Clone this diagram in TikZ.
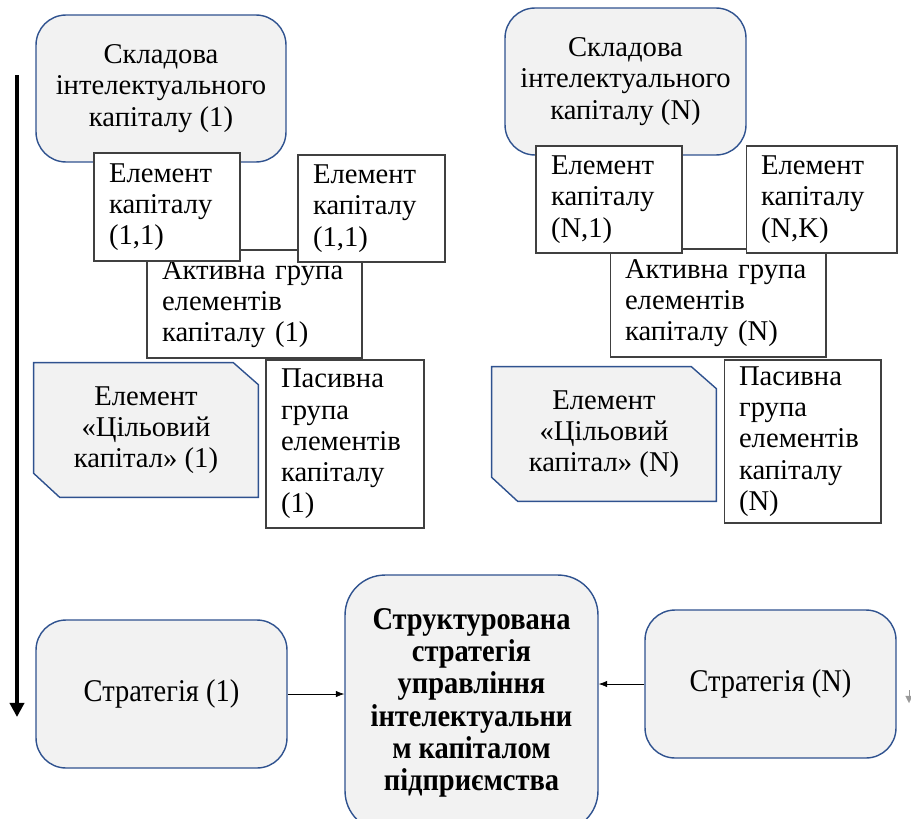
\documentclass[tikz,border=0pt]{standalone}
\usepackage{fontspec}
\setmainfont{Liberation Serif}
\newfontfamily\narrowfont[FakeStretch=0.9]{Liberation Serif}
\usetikzlibrary{arrows.meta, backgrounds}

\definecolor{edgeblue}{RGB}{47,82,143}
\definecolor{panelgray}{RGB}{242,242,242}

\begin{document}
\begin{tikzpicture}[
    x=0.02cm, y=-0.02cm,
    txt/.style={font=\fontsize{16.3}{17.8}\selectfont},
    roundbox/.style={draw=edgeblue, line width=0.8pt, fill=panelgray, rounded corners=0.6cm, align=center, txt},
    elembox/.style={draw=black!75, line width=0.6pt, fill=white, align=left, inner xsep=0.3cm, txt},
    goalbox/.style={minimum width=4.48cm, minimum height=2.68cm, align=center, txt},
    goalline/.style={draw=edgeblue, line width=0.8pt, fill=panelgray},
    stratbox/.style={roundbox, font=\narrowfont\fontsize{18}{19}\selectfont},
    >=Latex
]
\useasboundingbox (0,0) rectangle (911,818);
\clip (0,0) rectangle (911,818);

% Component 1
\node[roundbox, minimum width=5cm, minimum height=2.94cm] (comp1) at (161,88.5) {Складова\\інтелектуального\\капіталу (1)};
\node[elembox, minimum width=4.3cm, minimum height=2.16cm, text width=3.7cm] (act1) at (254.5,304) {Активна група\\елементів\\капіталу (1)};
\node[elembox, minimum width=2.92cm, minimum height=2.16cm, text width=2.32cm] (el11a) at (167,207) {Елемент\\капіталу\\(1,1)};
\node[elembox, minimum width=2.94cm, minimum height=2.14cm, text width=2.34cm] (el11b) at (371.5,208.5) {Елемент\\капіталу\\(1,1)};
\node[goalbox] (goal1) at (146,430) {Елемент\\«Цільовий\\капітал» (1)};
\node[elembox, minimum width=3.16cm, minimum height=3.36cm, text width=2.56cm] (pas1) at (345,444) {Пасивна\\група\\елементів\\капіталу\\(1)};

% Component N
\node[roundbox, minimum width=4.82cm, minimum height=2.94cm] (compN) at (625.5,81.5) {Складова\\інтелектуального\\капіталу (N)};
\node[elembox, minimum width=4.32cm, minimum height=2.16cm, text width=3.72cm] (actN) at (718,303) {Активна група\\елементів\\капіталу (N)};
\node[elembox, minimum width=2.92cm, minimum height=2.14cm, text width=2.32cm] (elN1) at (609,199.5) {Елемент\\капіталу\\(N,1)};
\node[elembox, minimum width=3.02cm, minimum height=2.14cm, text width=2.42cm] (elNK) at (821.5,199.5) {Елемент\\капіталу\\(N,K)};
\node[goalbox] (goalN) at (604,434) {Елемент\\«Цільовий\\капітал» (N)};
\node[elembox, minimum width=3.14cm, minimum height=3.26cm, text width=2.54cm] (pasN) at (802.5,441.5) {Пасивна\\група\\елементів\\капіталу\\(N)};

% Cut corners of the target elements
\begin{scope}[on background layer]
\foreach \g in {goal1, goalN}
    \draw[goalline] (\g.north west) -- ([xshift=-0.5cm]\g.north east) -- ([yshift=-0.44cm]\g.north east)
        -- (\g.south east) -- ([xshift=0.52cm]\g.south west) -- ([yshift=0.48cm]\g.south west) -- cycle;
\end{scope}

% Strategies
\node[stratbox, minimum width=5.02cm, minimum height=2.96cm] (str1) at (161.5,694) {Стратегія (1)};
\node[roundbox, rounded corners=0.8cm, minimum width=5.06cm, minimum height=5.12cm,
    font=\narrowfont\bfseries\fontsize{18}{18.4}\selectfont] (core) at (471.5,703)
    {Структурована\\стратегія\\управління\\інтелектуальни\\м капіталом\\підприємства};
\node[stratbox, minimum width=5.02cm, minimum height=2.96cm] (strN) at (770.5,684) {Стратегія (N)};

\draw[->] (str1) -- (str1 -| core.west);
\draw[->] (strN) -- (strN -| core.east);

% Side arrows
\coordinate (flowtop) at (17,75);
\coordinate (flowend) at (17,717);
\draw[-{Triangle[length=8pt,width=8pt]}, line width=2.2pt] (flowtop) -- (flowend);
\coordinate (sidetop) at (909,690);
\coordinate (sideend) at (909,703);
\draw[-{Triangle[length=4pt,width=4pt]}, line width=0.2pt, white!60!black] (sidetop) -- (sideend);

\end{tikzpicture}
\end{document}
